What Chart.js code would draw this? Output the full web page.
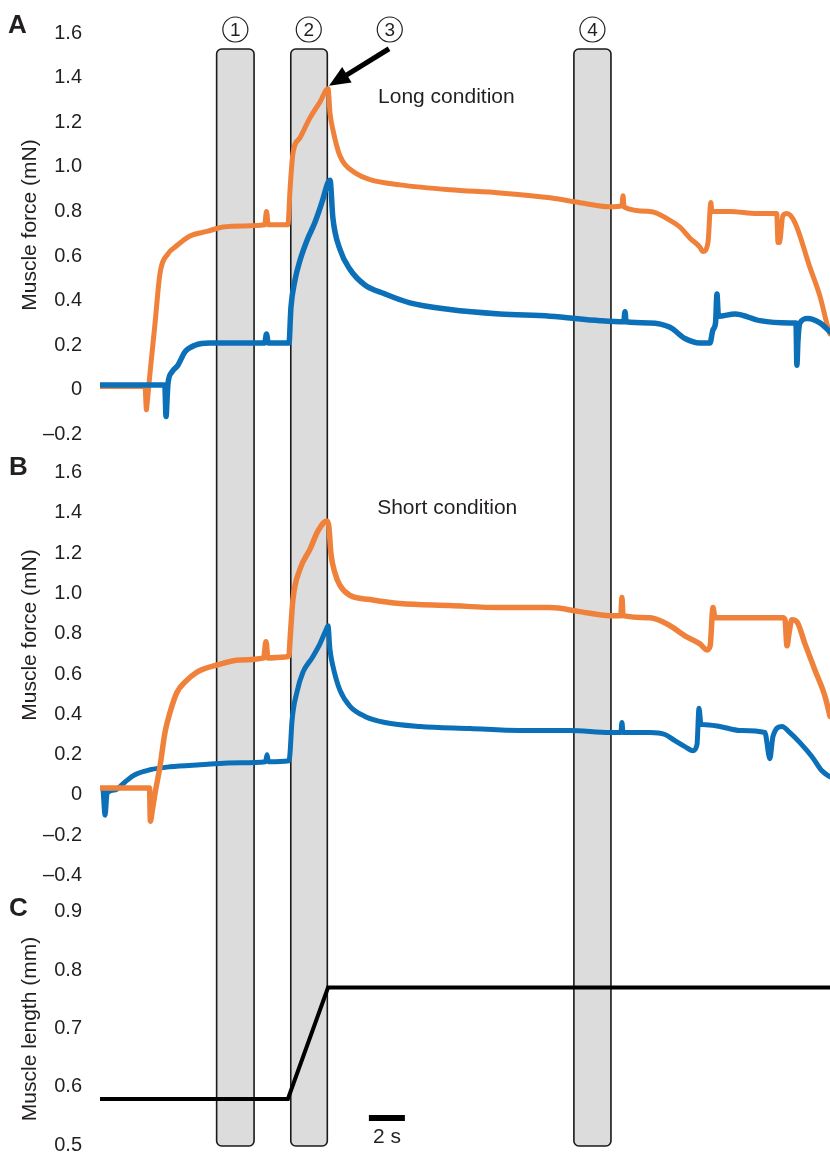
<!DOCTYPE html>
<html><head><meta charset="utf-8">
<script src="https://cdn.jsdelivr.net/npm/chart.js@4/dist/chart.umd.min.js"></script>
<style>html,body{margin:0;padding:0;background:#fff;}#wrap{position:relative;width:830px;height:1152px;}</style>
</head><body><div id="wrap"><canvas id="c" width="830" height="1152"></canvas></div>
<script>
// ---- data (time in s, force in mN, length in mm) ----
const longOrangeT = [0,2.5,2.58,2.62,2.78,3.06,3.33,3.78,4.17,5.0,5.94,6.83,8.0,9.15,9.25,9.35,10.44,10.56,10.72,11.11,11.67,12.22,12.67,12.78,12.94,13.2,13.33,13.61,14.17,15.0,16.67,19.44,22.22,25.0,26.67,28.33,29.0,29.06,29.12,30.56,31.67,32.22,32.78,33.33,33.5,33.78,33.94,34.0,35.0,36.5,37.6,37.67,37.75,37.94,38.17,38.61,39.44,40.0,40.44,40.56];
const longOrangeF = [0.015,0.015,-0.09,-0.06,0.076,0.30,0.52,0.61,0.64,0.69,0.71,0.73,0.735,0.74,0.80,0.74,0.74,0.90,1.06,1.13,1.22,1.29,1.35,1.24,1.166,1.08,1.05,1.01,0.973,0.942,0.919,0.897,0.883,0.861,0.839,0.821,0.825,0.87,0.82,0.80,0.76,0.73,0.68,0.64,0.62,0.66,0.84,0.80,0.80,0.79,0.79,0.66,0.66,0.78,0.79,0.75,0.55,0.42,0.28,0.25];
const longBlueT = [0,3.6,3.67,3.74,3.78,4.0,4.33,4.72,5.28,6.11,9.15,9.25,9.35,10.5,10.61,10.83,11.11,11.5,11.94,12.33,12.67,12.78,12.94,13.33,13.89,14.72,15.83,17.22,19.44,22.22,25.0,27.78,29.1,29.17,29.23,30.56,31.67,32.5,33.33,33.89,34.06,34.2,34.28,34.36,35.28,36.67,38.33,38.67,38.72,38.78,38.89,39.33,40.0,40.56];
const longBlueF = [0.022,0.022,-0.12,-0.02,0.03,0.08,0.11,0.17,0.20,0.21,0.21,0.25,0.21,0.21,0.37,0.49,0.58,0.67,0.75,0.84,0.93,0.94,0.77,0.63,0.54,0.47,0.43,0.39,0.36,0.34,0.33,0.31,0.305,0.35,0.305,0.30,0.28,0.23,0.21,0.21,0.27,0.30,0.43,0.33,0.34,0.31,0.30,0.30,0.11,0.22,0.30,0.32,0.30,0.26];
const shortOrangeT = [0,2.75,2.8,2.9,3.06,3.33,3.61,3.89,4.28,4.72,5.39,6.5,7.78,9.1,9.22,9.33,10.28,10.5,10.56,10.72,11.11,11.67,12.11,12.61,12.72,12.83,13.06,13.33,13.89,15.0,16.67,19.44,22.22,25.0,26.67,28.33,28.94,29.0,29.06,30.56,31.67,32.5,33.33,33.72,33.9,34.06,34.17,36.0,37.94,38.06,38.17,38.28,38.44,38.72,39.17,39.72,40.28,40.56];
const shortOrangeF = [0.035,0.035,-0.13,-0.08,0.01,0.14,0.31,0.41,0.51,0.56,0.61,0.645,0.67,0.68,0.76,0.68,0.685,0.69,0.77,0.97,1.12,1.22,1.31,1.36,1.33,1.20,1.10,1.04,0.99,0.97,0.95,0.94,0.93,0.93,0.91,0.89,0.89,0.98,0.89,0.88,0.84,0.79,0.75,0.72,0.74,0.93,0.88,0.88,0.88,0.87,0.74,0.80,0.87,0.86,0.75,0.62,0.49,0.39];
const shortBlueT = [0.17,0.28,0.4,0.83,1.39,1.94,2.78,3.89,5.56,7.78,9.2,9.28,9.36,10.5,10.56,10.67,10.94,11.28,11.78,12.22,12.61,12.67,12.78,12.94,13.33,13.89,14.72,15.83,17.78,20.56,23.33,26.11,28.33,28.94,29.0,29.06,30.56,31.39,31.94,32.5,32.94,33.17,33.28,33.4,33.5,34.44,35.56,36.94,37.22,37.39,37.89,38.33,38.89,39.56,40.11,40.56];
const shortBlueF = [0.03,-0.10,0.01,0.025,0.065,0.10,0.125,0.14,0.15,0.16,0.165,0.20,0.165,0.17,0.21,0.37,0.51,0.61,0.68,0.75,0.83,0.84,0.72,0.64,0.52,0.44,0.39,0.36,0.34,0.33,0.32,0.32,0.31,0.31,0.36,0.31,0.31,0.30,0.27,0.24,0.22,0.25,0.43,0.35,0.35,0.34,0.32,0.31,0.18,0.29,0.34,0.31,0.26,0.19,0.12,0.09];
const lengthT = [0,10.44,12.67,40.56];
const lengthMM = [0.579,0.579,0.77,0.77];

const ticksA = [1.6,1.4,1.2,1.0,0.8,0.6,0.4,0.2,0,-0.2];
const ticksB = [1.6,1.4,1.2,1.0,0.8,0.6,0.4,0.2,0,-0.2,-0.4];
const ticksC = [0.9,0.8,0.7,0.6,0.5];

const bandStart = [6.48, 10.6, 26.33];
const bandEnd   = [8.56, 12.63, 28.39];
const markerLabels = ['1','2','3','4'];
const markerTimes  = [7.52, 11.6, 16.1, 27.36];
const peakT = 12.67, peakF = 1.35;
const scaleBarT = [14.94, 16.94];

const ORANGE = '#F0813A', BLUE = '#0B70B8', INK = '#231F20';
const FONT = "'Liberation Sans', Arial, sans-serif";

function pts(t, v){ return t.map((x,i)=>({x:x, y:v[i]})); }
function fmt(v){ if (Math.abs(v) < 1e-9) return '0'; return (v<0?'\u2013':'') + Math.abs(v).toFixed(1); }
function yAxis(min, max, weight, sw, tv){
  return {
    type:'linear', position:'left', stack:'panels', stackWeight:sw, weight:weight,
    min:min, max:max, bounds:'data',
    grid:{display:false, drawTicks:true, tickLength:18}, border:{display:false},
    ticks:{padding:0, autoSkip:false, color:INK, font:{family:FONT, size:20, lineHeight:0.6}, callback:(v)=>fmt(v)},
    afterBuildTicks:(ax)=>{ ax.ticks = tv.map(v=>({value:v})); },
    afterFit:(ax)=>{ ax.width = 100; }
  };
}
function rr(ctx,x,y,w,h,r){
  ctx.beginPath();
  ctx.moveTo(x+r,y); ctx.lineTo(x+w-r,y); ctx.arcTo(x+w,y,x+w,y+r,r);
  ctx.lineTo(x+w,y+h-r); ctx.arcTo(x+w,y+h,x+w-r,y+h,r);
  ctx.lineTo(x+r,y+h); ctx.arcTo(x,y+h,x,y+h-r,r);
  ctx.lineTo(x,y+r); ctx.arcTo(x,y,x+r,y,r); ctx.closePath();
}

const overlay = {
  id:'overlay',
  beforeDatasetsDraw(chart){
    const ctx = chart.ctx, xs = chart.scales.x;
    ctx.save();
    bandStart.forEach((s,i)=>{
      const l = xs.getPixelForValue(s), r = xs.getPixelForValue(bandEnd[i]);
      rr(ctx, l, 49, r-l, 1146-49, 5);
      ctx.fillStyle = '#DCDCDC'; ctx.fill();
      ctx.lineWidth = 1.6; ctx.strokeStyle = '#1A1A1A'; ctx.stroke();
    });
    ctx.restore();
  },
  afterDraw(chart){
    const ctx = chart.ctx, xs = chart.scales.x, yA = chart.scales.yA, yB = chart.scales.yB;
    ctx.save();
    ctx.fillStyle = INK; ctx.strokeStyle = INK;
    markerTimes.forEach((t,i)=>{
      const cx = xs.getPixelForValue(t), cy = 29.5;
      ctx.beginPath(); ctx.arc(cx, cy, 12.5, 0, Math.PI*2); ctx.lineWidth = 1.2; ctx.stroke();
      ctx.font = '19px ' + FONT; ctx.textAlign = 'center'; ctx.textBaseline = 'middle';
      ctx.fillText(markerLabels[i], cx, cy+1);
    });
    const tipX = xs.getPixelForValue(peakT)+1, tipY = yA.getPixelForValue(peakF)-3;
    const tailX = tipX+60, tailY = tipY-37;
    const dx = tipX-tailX, dy = tipY-tailY, L = Math.hypot(dx,dy), ux = dx/L, uy = dy/L;
    const hl = 21, hw = 9;
    const bx = tipX-ux*hl, by = tipY-uy*hl;
    ctx.fillStyle = '#000'; ctx.strokeStyle = '#000';
    ctx.beginPath(); ctx.moveTo(tailX, tailY); ctx.lineTo(bx+ux*2, by+uy*2); ctx.lineWidth = 5; ctx.stroke();
    ctx.beginPath(); ctx.moveTo(tipX, tipY); ctx.lineTo(bx - uy*hw, by + ux*hw); ctx.lineTo(bx + uy*hw, by - ux*hw); ctx.closePath(); ctx.fill();
    ctx.fillStyle = INK; ctx.font = '21px ' + FONT; ctx.textAlign = 'left'; ctx.textBaseline = 'middle';
    ctx.fillText('Long condition', xs.getPixelForValue(15.45), yA.getPixelForValue(1.314));
    ctx.fillText('Short condition', xs.getPixelForValue(15.4), yB.getPixelForValue(1.424));
    ctx.font = 'bold 26px ' + FONT; ctx.textAlign = 'left'; ctx.textBaseline = 'alphabetic';
    ctx.fillText('A', 8, 33); ctx.fillText('B', 9, 475); ctx.fillText('C', 9, 916);
    ctx.font = '21px ' + FONT; ctx.textAlign = 'center'; ctx.textBaseline = 'middle';
    [['Muscle force (mN)', 225], ['Muscle force (mN)', 635], ['Muscle length (mm)', 1029]].forEach(([s, cy])=>{
      ctx.save(); ctx.translate(30, cy); ctx.rotate(-Math.PI/2); ctx.fillText(s, 0, 0); ctx.restore();
    });
    const s0 = xs.getPixelForValue(scaleBarT[0]), s1 = xs.getPixelForValue(scaleBarT[1]);
    ctx.fillStyle = '#000'; ctx.fillRect(s0, 1115, s1-s0, 6);
    ctx.fillStyle = INK; ctx.font = '21px ' + FONT; ctx.textAlign = 'center'; ctx.textBaseline = 'alphabetic';
    ctx.fillText('2 s', (s0+s1)/2, 1143);
    ctx.restore();
  }
};

const lineBase = {pointRadius:0, borderJoinStyle:'round', borderCapStyle:'round', cubicInterpolationMode:'monotone', fill:false, xAxisID:'x'};

new Chart(document.getElementById('c'), {
  type:'line',
  data:{ datasets:[
    Object.assign({label:'Long, orange', data:pts(longOrangeT,longOrangeF), borderColor:ORANGE, borderWidth:5, yAxisID:'yA', order:2}, lineBase),
    Object.assign({label:'Long, blue', data:pts(longBlueT,longBlueF), borderColor:BLUE, borderWidth:5.5, yAxisID:'yA', order:1}, lineBase),
    Object.assign({label:'Short, orange', data:pts(shortOrangeT,shortOrangeF), borderColor:ORANGE, borderWidth:5.5, yAxisID:'yB', order:1}, lineBase),
    Object.assign({label:'Short, blue', data:pts(shortBlueT,shortBlueF), borderColor:BLUE, borderWidth:5, yAxisID:'yB', order:2}, lineBase),
    Object.assign({label:'Length', data:pts(lengthT,lengthMM), borderColor:'#000', borderWidth:4, yAxisID:'yC', order:0, cubicInterpolationMode:'default', tension:0}, {pointRadius:0, fill:false, xAxisID:'x', borderJoinStyle:'miter'})
  ]},
  options:{
    responsive:false, animation:false, devicePixelRatio:1,
    layout:{padding:{top:33, bottom:7, left:0, right:0}},
    plugins:{legend:{display:false}, tooltip:{enabled:false}},
    scales:{
      x:{type:'linear', min:0, max:40.56, display:false},
      yA: yAxis(-0.279, 1.6, 3, 419, ticksA),
      yB: yAxis(-0.4715, 1.702, 2, 438, ticksB),
      yC: yAxis(0.5, 0.9374, 1, 255, ticksC)
    }
  },
  plugins:[overlay]
});
</script></body></html>
